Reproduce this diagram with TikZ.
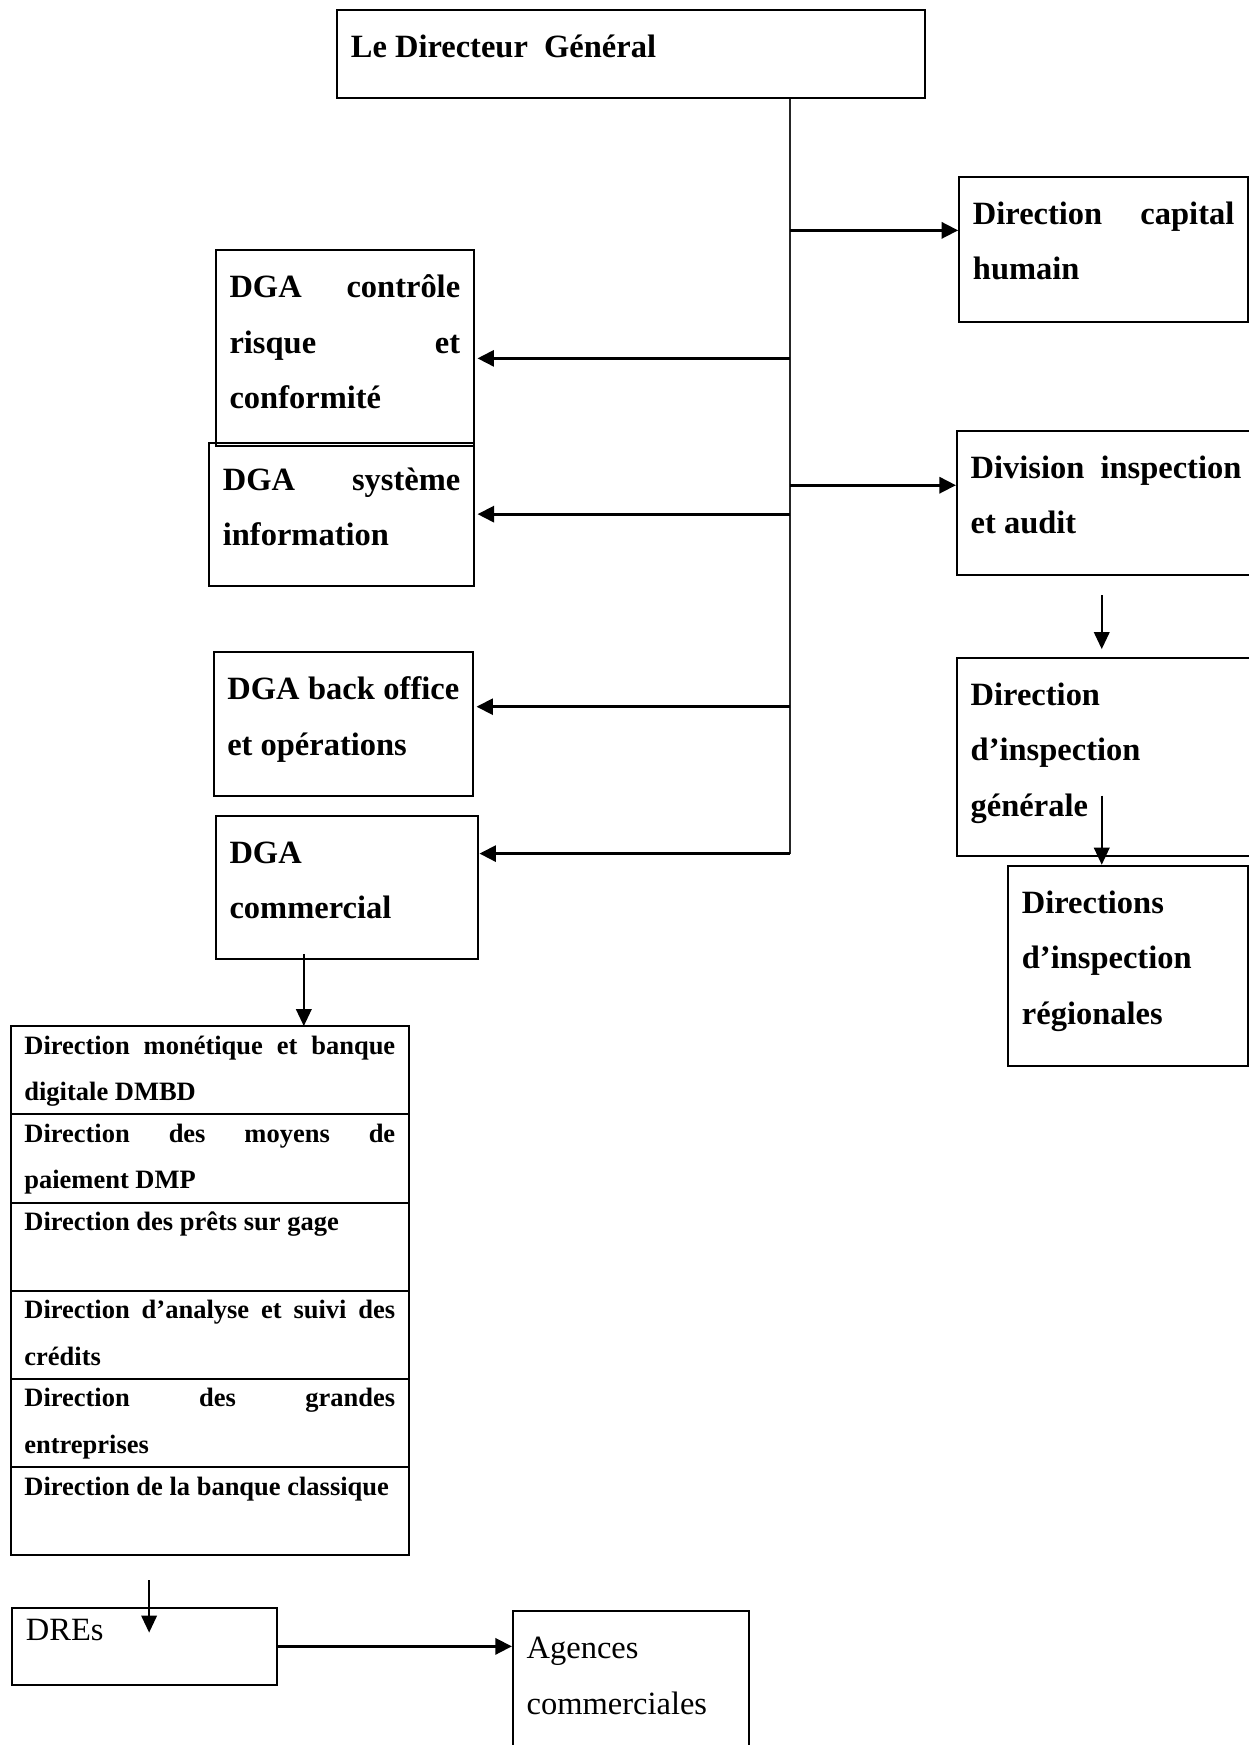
\documentclass[tikz,border=0pt]{standalone}
\usepackage{fontspec}
\setmainfont{Liberation Serif}
\usepackage{tikz}
\usetikzlibrary{arrows.meta, positioning}
\tikzset{
  orgbox/.style={draw, line width=0.8pt, anchor=north west, inner xsep=5.5pt,
                 inner ysep=0pt, align=justify, text height=19pt, text depth=#1,
                 font=\bfseries\fontsize{13}{22.2}\selectfont},
  orgbox/.default=16.2pt,
  plainbox/.style={orgbox=#1, font=\fontsize{13}{22.2}\selectfont},
  rowbox/.style={draw, line width=0.8pt, anchor=north west, inner xsep=5.3pt,
                 inner ysep=0pt, outer sep=0pt, text width=148.4pt, align=justify,
                 text height=11.2pt, text depth=24.1pt,
                 font=\bfseries\fontsize{10.6}{18.6}\selectfont},
  arrow/.style={-{Triangle[length=6.6pt,width=6.4pt]}, line width=1.2pt},
  downarrow/.style={-{Triangle[length=6.8pt,width=6.2pt]}, line width=0.8pt},
  trunk/.style={line width=0.6pt, draw=black!85},
}

\begin{document}
\begin{tikzpicture}[x=0.4453pt, y=-0.4453pt]
  \useasboundingbox (0,0) rectangle (1122,1568);

  % Top
  \node[orgbox, text width=224.1pt] (dg) at (302,8) {Le Directeur~~Général};

  % Right branch
  \node[orgbox=38.9pt, text width=104.6pt] (cap) at (861,158)
    {Direction capital\linebreak humain};
  \node[orgbox=38.9pt, text width=108.3pt] (div) at (859,386)
    {Division inspection\linebreak et audit};
  \node[orgbox=60.3pt, text width=108.3pt] (gen) at (859,590)
    {Direction\\ d’inspection\\ générale};
  \node[orgbox=61.2pt, text width=85pt] (reg) at (905,777)
    {Directions\\ d’inspection\\ régionales};

  % Left branch
  \node[orgbox=59.4pt, text width=92.3pt] (ctrl) at (193,224)
    {DGA contrôle\linebreak risque et\linebreak conformité};
  \node[orgbox=38.4pt, text width=95pt] (sys) at (187,397)
    {DGA système\linebreak information};
  \node[orgbox=38.4pt, text width=92.8pt] (back) at (191,585)
    {DGA back office\linebreak et opérations};
  \node[orgbox=38.4pt, text width=94.1pt] (com) at (193,732)
    {DGA\\ commercial};

  % Commercial directions
  \node[rowbox] (row1) at (10,922) {Direction monétique et banque\linebreak digitale DMBD};
  \node[rowbox, below=0pt of row1] (row2) {Direction des moyens de\linebreak paiement DMP};
  \node[rowbox, below=0pt of row2] (row3) {Direction des prêts sur gage};
  \node[rowbox, below=0pt of row3] (row4) {Direction d’analyse et suivi des\linebreak crédits};
  \node[rowbox, below=0pt of row4] (row5) {Direction des grandes\linebreak entreprises};
  \node[rowbox, below=0pt of row5] (row6) {Direction de la banque classique};

  % Network
  \node[plainbox=17.9pt, text height=12.8pt, text width=95pt] (dres) at (10,1444) {DREs};
  \node[plainbox=40.2pt, text width=83.4pt] (agc) at (460,1447) {Agences\\ commerciales};

  % Trunk
  \coordinate (foot) at (710,767);
  \coordinate (jcap) at (710,207);
  \coordinate (jctrl) at (710,322);
  \coordinate (jdiv) at (710,436);
  \coordinate (jsys) at (710,462);
  \coordinate (jback) at (710,635);
  \draw[trunk] (dg.south -| foot) -- (foot);

  \draw[arrow] (jcap) -- (jcap -| cap.west);
  \draw[arrow] (jdiv) -- (jdiv -| div.west);
  \draw[arrow, shorten >=1pt] (jctrl) -- (jctrl -| ctrl.east);
  \draw[arrow, shorten >=1pt] (jsys) -- (jsys -| sys.east);
  \draw[arrow, shorten >=1pt] (jback) -- (jback -| back.east);
  \draw[arrow] (foot) -- (foot -| com.east);

  % Down links
  \coordinate (d1) at (990,535);
  \draw[downarrow, shorten >=3pt] (d1) -- (d1 |- gen.north);
  \coordinate (d2) at (990,715);
  \draw[downarrow] (d2) -- (d2 |- reg.north);
  \coordinate (d3) at (273,857);
  \draw[downarrow] (d3) -- (d3 |- row1.north);
  \coordinate (d4) at (134,1420);
  \coordinate (d5) at (134,1467);
  \draw[downarrow] (d4) -- (d5);

  \draw[arrow] (dres.east) -- (dres.east -| agc.west);

\end{tikzpicture}
\end{document}
